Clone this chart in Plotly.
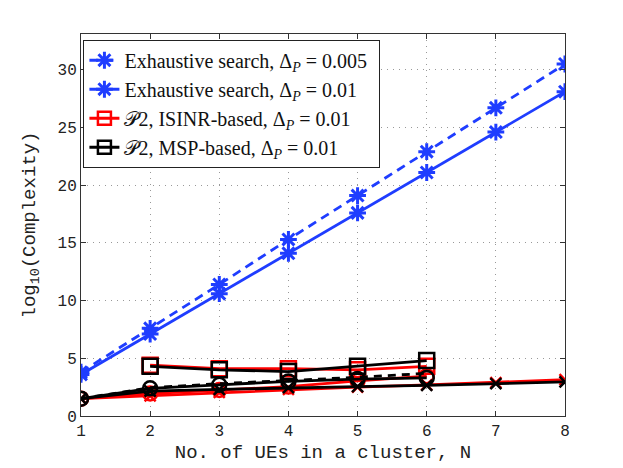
import plotly.graph_objects as go

N_full = [1, 2, 3, 4, 5, 6, 7, 8]
N_six = [1, 2, 3, 4, 5, 6]
N_sq = [2, 3, 4, 5, 6]

exh_0005 = [3.8, 7.6, 11.4, 15.3, 19.1, 22.9, 26.7, 30.5]
exh_001 = [3.6, 7.1, 10.6, 14.1, 17.6, 21.1, 24.6, 28.1]

isinr_sq = [4.4, 4.1, 4.1, 4.0, 4.3]
msp_sq = [4.3, 4.0, 3.85, 4.3, 4.8]

isinr_circ = [1.5, 1.95, 2.25, 2.55, 3.05, 3.45]
msp_circ = [1.5, 2.4, 2.7, 3.0, 3.2, 3.3]
msp_dash = [1.5, 2.45, 2.8, 3.05, 3.35, 3.7]

isinr_x = [1.5, 1.75, 2.05, 2.3, 2.5, 2.7, 2.9, 3.15]
msp_x = [1.5, 2.15, 2.3, 2.45, 2.55, 2.65, 2.8, 2.95]

legend_names = [
    "Exhaustive search, Δ<sub><i>P</i></sub> = 0.005",
    "Exhaustive search, Δ<sub><i>P</i></sub> = 0.01",
    "𝒫2, ISINR-based, Δ<sub><i>P</i></sub> = 0.01",
    "𝒫2, MSP-based, Δ<sub><i>P</i></sub> = 0.01",
]

BLUE = "#1f3dff"
RED = "#ff0000"
BLACK = "#000000"
PAD = "<span style='font-size:27px'>&#160;</span>"

fig = go.Figure()

def add(x, y, color, symbol, dash="solid", name=None, show=False, size=10, mode="lines+markers"):
    fig.add_trace(go.Scatter(
        x=x, y=y, mode=mode, name=name, showlegend=show,
        line=dict(color=color, width=2.8, dash=dash),
        marker=dict(symbol=symbol, size=size, color=color,
                    line=dict(color=color, width=2.5)),
    ))

# bottom group
add(N_full, isinr_x, RED, "x-thin", size=11)
add(N_six, isinr_circ, RED, "circle-open", size=14)
add(N_sq, isinr_sq, RED, "square-open", size=15)
add(N_six, msp_dash, BLACK, "circle", dash="8px,6px", mode="lines")
add(N_full, msp_x, BLACK, "x-thin", size=11)
add(N_six, msp_circ, BLACK, "circle-open", size=14)
add(N_sq, msp_sq, BLACK, "square-open", size=15)

# exhaustive
fig.add_trace(go.Scatter(
    x=N_full, y=exh_0005, mode="lines+markers",
    name=legend_names[0] + PAD,
    line=dict(color=BLUE, width=2.8, dash="9px,6px"),
    marker=dict(symbol="asterisk-open", size=14, color=BLUE, line=dict(color=BLUE, width=3)),
))
fig.add_trace(go.Scatter(
    x=N_full, y=exh_001, mode="lines+markers",
    name=legend_names[1] + PAD,
    line=dict(color=BLUE, width=2.8),
    marker=dict(symbol="asterisk-open", size=14, color=BLUE, line=dict(color=BLUE, width=3)),
))
# legend-only entries
fig.add_trace(go.Scatter(
    x=[None], y=[None], mode="lines+markers",
    name=legend_names[2] + PAD,
    line=dict(color=RED, width=2.8),
    marker=dict(symbol="square-open", size=13, color=RED, line=dict(color=RED, width=2.5)),
))
fig.add_trace(go.Scatter(
    x=[None], y=[None], mode="lines+markers",
    name=legend_names[3] + PAD,
    line=dict(color=BLACK, width=2.8),
    marker=dict(symbol="square-open", size=13, color=BLACK, line=dict(color=BLACK, width=2.5)),
))

axis_common = dict(
    showline=True, linecolor="#333", linewidth=1, mirror="ticks",
    ticks="inside", ticklen=5, tickcolor="#333",
    showgrid=True, gridcolor="#999999", griddash="1px,5px", gridwidth=1,
    zeroline=False, automargin=False,
    tickfont=dict(family="Liberation Mono", size=16, color="#222"),
)

fig.update_layout(
    width=623, height=468,
    paper_bgcolor="white", plot_bgcolor="white",
    margin=dict(l=73, r=66, t=26, b=60),
    xaxis=dict(range=[1, 8], dtick=1,
               title=dict(text="No. of UEs in a cluster, N",
                          font=dict(family="Liberation Mono", size=19, color="#222"),
                          standoff=4),
               **axis_common),
    yaxis=dict(range=[0, 33.1], tickvals=[0, 5, 10, 15, 20, 25, 30],
               title=dict(text="log<sub>10</sub>(Complexity)",
                          font=dict(family="Liberation Mono", size=19, color="#222"),
                          standoff=16),
               **axis_common),
    legend=dict(x=0.005, y=0.985, xanchor="left", yanchor="top",
                bgcolor="white", bordercolor="#222", borderwidth=1,
                font=dict(family="Liberation Serif", size=20, color="#111"),
                tracegroupgap=0),
    showlegend=True,
)

fig.write_html("out.html")
